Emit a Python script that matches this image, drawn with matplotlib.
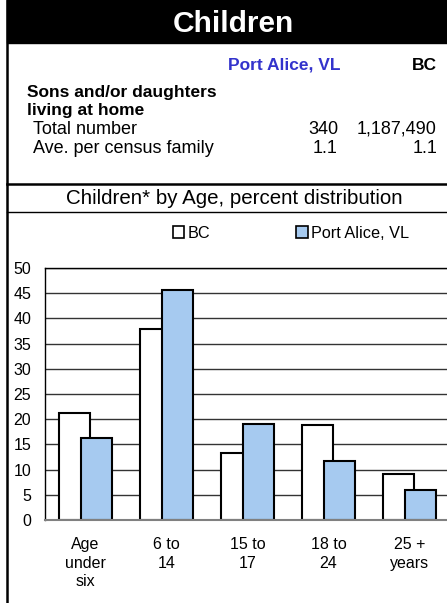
import matplotlib.pyplot as plt
from matplotlib.patches import Rectangle
from matplotlib.lines import Line2D

plt.rcParams['font.family'] = ['Liberation Sans', 'DejaVu Sans']

# data
categories = ['Age\nunder\nsix', '6 to\n14', '15 to\n17', '18 to\n24', '25 +\nyears']
bc_pct = [21.2, 37.8, 13.2, 18.8, 9.1]
pa_pct = [16.2, 45.6, 19.1, 11.8, 5.9]
series_names = ['BC', 'Port Alice, VL']
row_labels = ['Total number', 'Ave. per census family']
pa_values = ['340', '1.1']
bc_values = ['1,187,490', '1.1']

W, H = 447, 603
fig = plt.figure(figsize=(W / 100, H / 100), dpi=100)


def fx(x):
    return x / W


def fy(y):
    return 1 - y / H


# header band
fig.patches.append(Rectangle((fx(7), fy(43)), fx(447) - fx(7), fy(0) - fy(43),
                             transform=fig.transFigure, color='black', zorder=0))
fig.text(fx(233), fy(24), 'Children', color='white', fontsize=21.5, fontweight='bold',
         ha='center', va='center')

# left border and separators
fig.lines.append(Line2D([fx(7), fx(7)], [fy(0), fy(603)], transform=fig.transFigure,
                        color='black', lw=1.8))
fig.lines.append(Line2D([fx(7), fx(447)], [fy(184), fy(184)], transform=fig.transFigure,
                        color='black', lw=1.8))
fig.lines.append(Line2D([fx(7), fx(447)], [fy(212), fy(212)], transform=fig.transFigure,
                        color='black', lw=1.0))

# table
blue = '#3333CC'
fig.text(fx(340), fy(65), 'Port Alice, VL', color=blue, fontsize=12.5, fontweight='bold',
         ha='right', va='center')
fig.text(fx(437), fy(65), 'BC', fontsize=12.5, fontweight='bold', ha='right', va='center')
fig.text(fx(27), fy(92), 'Sons and/or daughters', fontsize=12.5, fontweight='bold',
         ha='left', va='center')
fig.text(fx(27), fy(110), 'living at home', fontsize=12.5, fontweight='bold',
         ha='left', va='center')
for i, lab in enumerate(row_labels):
    yy = 129.5 + i * 19
    fig.text(fx(33), fy(yy), lab, fontsize=13, ha='left', va='center')
    fig.text(fx(338), fy(yy), pa_values[i], fontsize=13, ha='right', va='center')
    fig.text(fx(437), fy(yy), bc_values[i], fontsize=13, ha='right', va='center')

fig.text(fx(234), fy(199), 'Children* by Age, percent distribution', fontsize=14.8,
         ha='center', va='center')

# chart
ax = fig.add_axes([fx(45), fy(520), (450 - 45) / W, (520 - 268) / H])
x = list(range(len(categories)))
w = 0.38
off = 0.14
ax.bar([i - off for i in x], bc_pct, width=w, color='white', edgecolor='black',
       linewidth=1.5, label=series_names[0], zorder=3)
ax.bar([i + off for i in x], pa_pct, width=w, color='#A6CAF0', edgecolor='black',
       linewidth=1.5, label=series_names[1], zorder=4)

ax.set_xlim(-0.5, 4.5)
ax.set_ylim(0, 50)
ax.set_yticks(range(0, 51, 5))
ax.set_xticks(x)
ax.set_xticklabels(categories, fontsize=11.5, linespacing=1.32)
ax.tick_params(axis='y', labelsize=11.5, length=0, pad=10)
ax.tick_params(axis='x', length=0, pad=12)
ax.yaxis.grid(True, color='#333333', linewidth=1.0, zorder=0)
ax.set_axisbelow(True)
ax.spines['top'].set_linewidth(1.0)
ax.spines['left'].set_linewidth(1.0)
ax.spines['right'].set_visible(False)
ax.spines['bottom'].set_color('#808080')
ax.spines['bottom'].set_linewidth(1.5)
ax.spines['bottom'].set_zorder(5)

leg = fig.legend(loc='center left', bbox_to_anchor=(fx(173), fy(233)), ncol=2,
                 frameon=False, fontsize=11.7, handlelength=0.7, handleheight=0.7,
                 handletextpad=0.2, columnspacing=5.3, borderaxespad=0, borderpad=0)
for p in leg.get_patches():
    p.set_linewidth(1.2)

fig.savefig('out.png', dpi=100)
